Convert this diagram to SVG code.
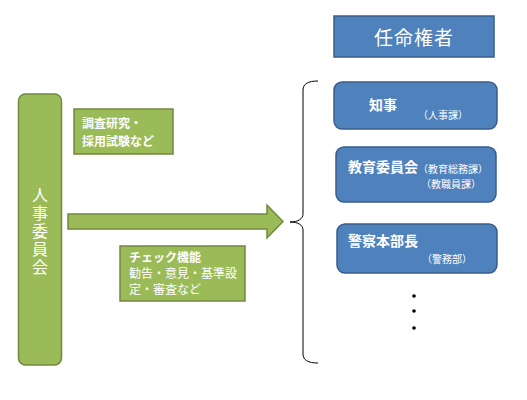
<svg xmlns="http://www.w3.org/2000/svg" width="527" height="400" viewBox="0 0 527 400">
<style>
text{font-family:"Noto Sans CJK JP","Noto Sans",sans-serif;fill:#fff}
.g{fill:#9bbb59;stroke:#71893f;stroke-width:1.5}
.b{fill:#4f81bd;stroke:#385d8a;stroke-width:1.5}
.s12{font-size:12px}
.s10{font-size:10px}
.s14{font-size:14px;font-weight:bold}
</style>
<rect width="527" height="400" fill="#fff"/>
<g id="jinji">
<rect class="g" x="18.5" y="94" width="43" height="271" rx="7"/>
<text x="40" y="187" writing-mode="vertical-rl" font-size="16" letter-spacing="2">人事委員会</text>
</g>
<g id="chosa">
<rect class="g" x="74" y="109" width="99" height="45"/>
<text class="s12" x="82" y="128" font-weight="bold">調査研究・</text>
<text class="s12" x="82" y="146" font-weight="bold">採用試験など</text>
</g>
<g id="check">
<rect class="g" x="120" y="246" width="125" height="55"/>
<text class="s12" x="129" y="262" font-weight="bold">チェック機能</text>
<text class="s12" x="129" y="278">勧告・意見・基準設</text>
<text class="s12" x="129" y="294">定・審査など</text>
</g>
<g id="connectors">
<path class="g" d="M68,214 L267,214 L267,205 L283,221.5 L267,238 L267,229 L68,229 Z"/>
<path d="M318,81 C308,81 303,84 303,90 L303,214 C303,219 298,222 290,222 C298,222 303,225 303,230 L303,354 C303,360 308,363 318,363" fill="none" stroke="#000" stroke-width="1"/>
</g>
<g id="ninmei">
<rect class="b" x="334" y="16" width="160" height="41"/>
<text x="414" y="45" text-anchor="middle" font-size="19" letter-spacing="1">任命権者</text>
</g>
<g id="chiji">
<rect class="b" x="334" y="82" width="163" height="47" rx="8"/>
<text class="s14" x="369" y="110">知事</text>
<text class="s10" x="418" y="119">（人事課）</text>
</g>
<g id="kyoiku">
<rect class="b" x="336" y="147" width="160" height="55" rx="8"/>
<text class="s14" x="348" y="172">教育委員会</text>
<text class="s10" x="418" y="173">（教育総務課）</text>
<text class="s10" x="421" y="188">（教職員課）</text>
</g>
<g id="keisatsu">
<rect class="b" x="337" y="224" width="160" height="49" rx="8"/>
<text class="s14" x="348" y="246">警察本部長</text>
<text class="s10" x="422" y="263">（警務部）</text>
</g>
<g id="dots" fill="#000">
<circle cx="414" cy="296" r="1.8"/>
<circle cx="414" cy="311" r="1.8"/>
<circle cx="414" cy="328" r="1.8"/>
</g>
</svg>
